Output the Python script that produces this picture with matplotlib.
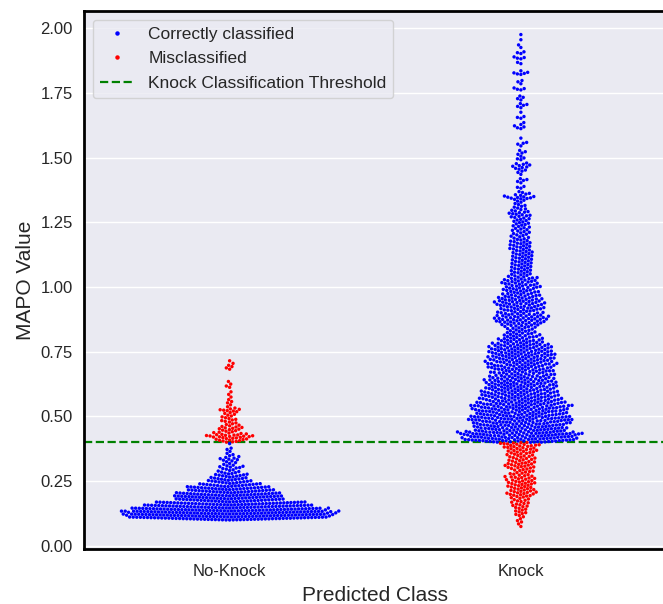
"""Swarm plot of MAPO values per predicted class, coloured by classification outcome."""

import numpy as np
import pandas as pd
import matplotlib
matplotlib.use('Agg')
import matplotlib.pyplot as plt
from matplotlib.lines import Line2D
import seaborn as sns

THRESHOLD = 0.40
BIN = 0.01

# samples per 0.01-wide MAPO bin
# No-Knock class, bins from 0.10 up to 0.72
no_knock_start = 0.10
no_knock_counts = [
    48, 51, 53, 52, 45, 39, 36, 26, 26, 27,   # 0.10 - 0.19
    23, 20, 20, 15, 11, 10, 8, 8, 5, 4,       # 0.20 - 0.29
    6, 3, 3, 5, 3, 2, 1, 2, 0, 1,             # 0.30 - 0.39
    7, 8, 12, 6, 5, 6, 4, 3, 4, 3,            # 0.40 - 0.49
    3, 3, 6, 2, 1, 2, 1, 1, 1, 1,             # 0.50 - 0.59
    0, 2, 1, 1, 0, 0, 0, 0, 2, 2,             # 0.60 - 0.69
    1, 1,                                     # 0.70 - 0.71
]

# Knock class, bins from 0.07 up to 1.98
knock_start = 0.07
knock_counts = [
    1, 1, 2,                                  # 0.07 - 0.09
    1, 2, 3, 3, 3, 4, 4, 4, 4, 6,             # 0.10 - 0.19
    7, 6, 6, 6, 7, 6, 7, 5, 5, 5,             # 0.20 - 0.29
    7, 7, 6, 6, 6, 6, 7, 7, 8, 9,             # 0.30 - 0.39
    26, 26, 26, 30, 22, 21, 21, 21, 23, 24,   # 0.40 - 0.49
    21, 20, 21, 22, 22, 19, 18, 18, 17, 17,   # 0.50 - 0.59
    16, 16, 16, 16, 15, 14, 13, 14, 14, 15,   # 0.60 - 0.69
    15, 15, 15, 15, 15, 14, 14, 14, 11, 10,   # 0.70 - 0.79
    9, 8, 7, 6, 7, 9, 11, 12, 12, 10,         # 0.80 - 0.89
    9, 10, 10, 11, 11, 10, 9, 8, 8, 8,        # 0.90 - 0.99
    8, 8, 8, 7, 5, 5, 5, 5, 5, 5,             # 1.00 - 1.09
    5, 5, 5, 5, 5, 5, 5, 5, 4, 4,             # 1.10 - 1.19
    4, 4, 4, 4, 4, 4, 4, 5, 5, 4,             # 1.20 - 1.29
    3, 3, 2, 3, 8, 4, 3, 0, 3, 0,             # 1.30 - 1.39
    2, 3, 0, 1, 2, 3, 4, 4, 0, 3,             # 1.40 - 1.49
    1, 2, 2, 0, 1, 3, 0, 1, 0, 0,             # 1.50 - 1.59
    0, 3, 2, 1, 0, 3, 0, 1, 0, 2,             # 1.60 - 1.69
    3, 0, 2, 2, 0, 0, 4, 0, 1, 2,             # 1.70 - 1.79
    0, 0, 5, 1, 0, 0, 2, 0, 4, 0,             # 1.80 - 1.89
    3, 0, 1, 1, 0, 1, 0, 1,                   # 1.90 - 1.97
]

class_order = ['No-Knock', 'Knock']
hue_order = ['Correctly classified', 'Misclassified']
palette = {'Correctly classified': 'blue', 'Misclassified': 'red'}


def spread_bins(start, counts):
    # place the samples of each bin evenly inside it
    vals = []
    for i, n in enumerate(counts):
        if n:
            lo = start + i * BIN
            vals.extend(lo + (np.arange(n) + 0.5) / n * BIN)
    return np.array(vals)


nk_vals = spread_bins(no_knock_start, no_knock_counts)
k_vals = spread_bins(knock_start, knock_counts)

df = pd.DataFrame({
    'Predicted Class': ['No-Knock'] * len(nk_vals) + ['Knock'] * len(k_vals),
    'MAPO Value': np.concatenate([nk_vals, k_vals]),
})
wrong = np.where(df['Predicted Class'] == 'Knock',
                 df['MAPO Value'] < THRESHOLD, df['MAPO Value'] >= THRESHOLD)
df['Outcome'] = np.where(wrong, 'Misclassified', 'Correctly classified')

sns.set_theme(style='darkgrid')
plt.rcParams['font.family'] = ['Liberation Sans', 'DejaVu Sans']

fig = plt.figure(figsize=(6.63, 6.04), dpi=100)
ax = fig.add_axes([84 / 663, 55 / 604, 582.5 / 663, 538 / 604])

sns.swarmplot(data=df, x='Predicted Class', y='MAPO Value', hue='Outcome',
              order=class_order, hue_order=hue_order, palette=palette,
              size=2.45, linewidth=0, legend=False, ax=ax)
ax.axhline(THRESHOLD, color='green', linestyle='--', linewidth=1.6)

ax.set_xlim(-0.5, 1.5)
ax.set_ylim(-0.012, 2.066)
ax.set_yticks(np.arange(0, 2.01, 0.25))
ax.xaxis.grid(False)
ax.tick_params(axis='y', labelsize=12, length=0, pad=8)
ax.tick_params(axis='x', labelsize=12, length=0, pad=11)
ax.set_xlabel('Predicted Class', fontsize=15, labelpad=5)
ax.set_ylabel('MAPO Value', fontsize=15)

for side in ('left', 'bottom', 'top'):
    ax.spines[side].set_visible(True)
    ax.spines[side].set_color('black')
    ax.spines[side].set_linewidth(2)
ax.spines['right'].set_visible(False)

handles = [
    Line2D([], [], marker='o', linestyle='none', color='blue', markersize=2.2),
    Line2D([], [], marker='o', linestyle='none', color='red', markersize=2.2),
    Line2D([], [], color='green', linestyle='--', linewidth=1.6),
]
labels = hue_order + ['Knock Classification Threshold']
ax.legend(handles, labels, loc='upper left', fontsize=12.5, labelspacing=0.55)

fig.savefig('out.png', dpi=100)
